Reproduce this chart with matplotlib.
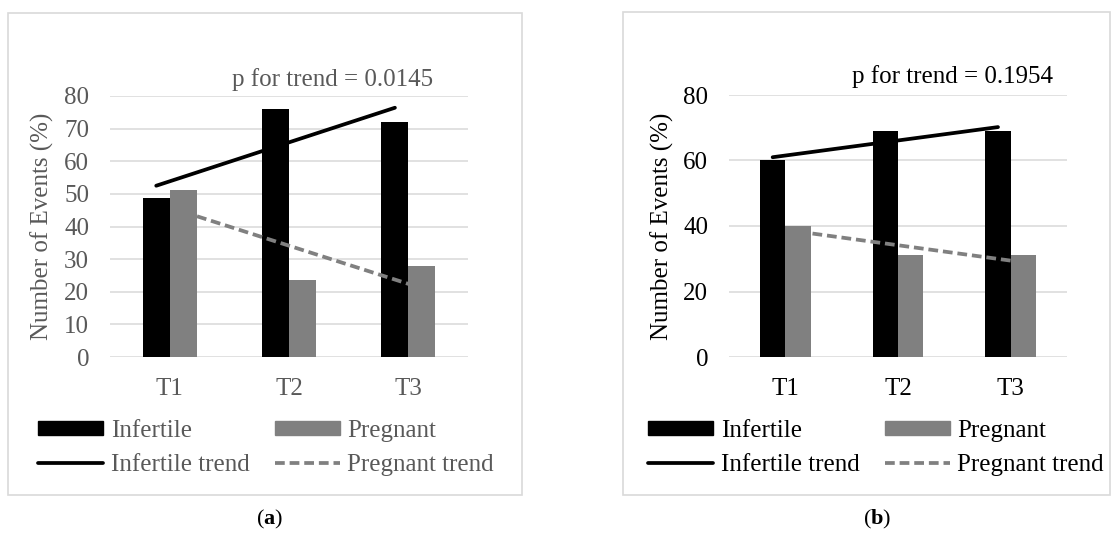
import matplotlib
matplotlib.use('Agg')
import matplotlib.pyplot as plt
from matplotlib.patches import Patch, Rectangle
from matplotlib.lines import Line2D
import numpy as np

plt.rcParams['font.family'] = ['Liberation Serif', 'DejaVu Serif']
plt.rcParams['mathtext.fontset'] = 'custom'
plt.rcParams['mathtext.rm'] = 'Liberation Serif'
plt.rcParams['mathtext.bf'] = 'Liberation Serif:bold'

# ---------------------------------------------------------------- data
categories = ['T1', 'T2', 'T3']

a_infertile = [48.6, 76.0, 72.0]
a_pregnant = [51.1, 23.7, 28.0]
a_infertile_trend = [52.5, 76.4]   # value at T1 and T3
a_pregnant_trend = [44.5, 21.1]
a_p_text = 'p for trend = 0.0145'

b_infertile = [60.0, 69.0, 69.0]
b_pregnant = [40.0, 31.0, 31.0]
b_infertile_trend = [61.0, 70.2]
b_pregnant_trend = [38.3, 28.9]
b_p_text = 'p for trend = 0.1954'

legend_labels = ['Infertile', 'Infertile trend', 'Pregnant', 'Pregnant trend']

BLACK = '#000000'
GREY = '#808080'
GRID = '#d9d9d9'
FS = 18

W, H = 1115, 534
fig = plt.figure(figsize=(W / 100, H / 100), dpi=100)


def fx(px):
    return px / W


def fy(py):
    return 1 - py / H


def panel(rect_px, box_px, infertile, pregnant, inf_trend, preg_trend,
          yticks, txtcol, p_text, p_xy, ylab_x, leg_xy, tag, tag_xy):
    # frame around the whole chart
    bx0, by0, bx1, by1 = box_px
    fig.patches.append(Rectangle((fx(bx0), fy(by1)), fx(bx1 - bx0), (by1 - by0) / H,
                                 transform=fig.transFigure, fill=False,
                                 edgecolor=GRID, linewidth=1.2))
    x0, y0, x1, y1 = rect_px
    ax = fig.add_axes([fx(x0), fy(y1), fx(x1 - x0), (y1 - y0) / H])

    x = np.arange(len(categories))
    w = 0.225
    ax.bar(x - w / 2, infertile, w, color=BLACK, zorder=2)
    ax.bar(x + w / 2, pregnant, w, color=GREY, zorder=2)
    ax.plot([x[0] - w / 2, x[-1] - w / 2], inf_trend, color=BLACK, lw=2.7,
            solid_capstyle='round', zorder=3)
    ax.plot([x[0] + w / 2, x[-1] + w / 2], preg_trend, color=GREY, lw=2.7,
            linestyle=(0, (2.6, 1.3)), zorder=3)

    ax.set_xlim(-0.5, len(categories) - 0.5)
    ax.set_ylim(0, yticks[-1])
    ax.set_yticks(yticks)
    ax.set_xticks(x)
    ax.set_xticklabels(categories)
    ax.yaxis.grid(True, color=GRID, linewidth=1.1, zorder=0)
    ax.set_axisbelow(True)
    for s in ax.spines.values():
        s.set_visible(False)
    ax.tick_params(axis='both', length=0, labelsize=FS, colors=txtcol)
    ax.tick_params(axis='y', pad=15)
    ax.tick_params(axis='x', pad=15)

    ax.set_ylabel('Number of Events (%)', fontsize=FS, color=txtcol)
    ax.yaxis.label.set_va('center')
    ax.yaxis.set_label_coords((ylab_x - x0) / (x1 - x0), 0.5)

    fig.text(fx(p_xy[0]), fy(p_xy[1]), p_text, fontsize=FS, color=txtcol,
             ha='center', va='center')

    handles = [Patch(color=BLACK),
               Line2D([], [], color=BLACK, lw=2.7, solid_capstyle='round'),
               Patch(color=GREY),
               Line2D([], [], color=GREY, lw=2.7, linestyle=(0, (2.6, 1.3)))]
    fig.legend(handles, legend_labels, loc='center',
               bbox_to_anchor=(fx(leg_xy[0]), fy(leg_xy[1])), ncol=2,
               frameon=False, fontsize=FS, labelcolor=txtcol,
               handlelength=2.6, handleheight=0.5, handletextpad=0.3,
               columnspacing=1.0, labelspacing=0.5, borderpad=0)

    fig.text(fx(tag_xy[0]), fy(tag_xy[1]), r'($\mathbf{%s}$)' % tag,
             fontsize=16, color=BLACK, ha='center', va='center')
    return ax


panel((110, 96, 468, 357), (8, 13, 522, 495), a_infertile, a_pregnant,
      a_infertile_trend, a_pregnant_trend, np.arange(0, 81, 10), '#595959',
      a_p_text, (333, 80), 42, (266, 448), 'a', (270, 519))

panel((729, 95, 1067, 357), (623, 12, 1110, 495), b_infertile, b_pregnant,
      b_infertile_trend, b_pregnant_trend, np.arange(0, 81, 20), BLACK,
      b_p_text, (953, 77), 662, (876, 448), 'b', (877, 519))

fig.savefig('out.png', dpi=100)
